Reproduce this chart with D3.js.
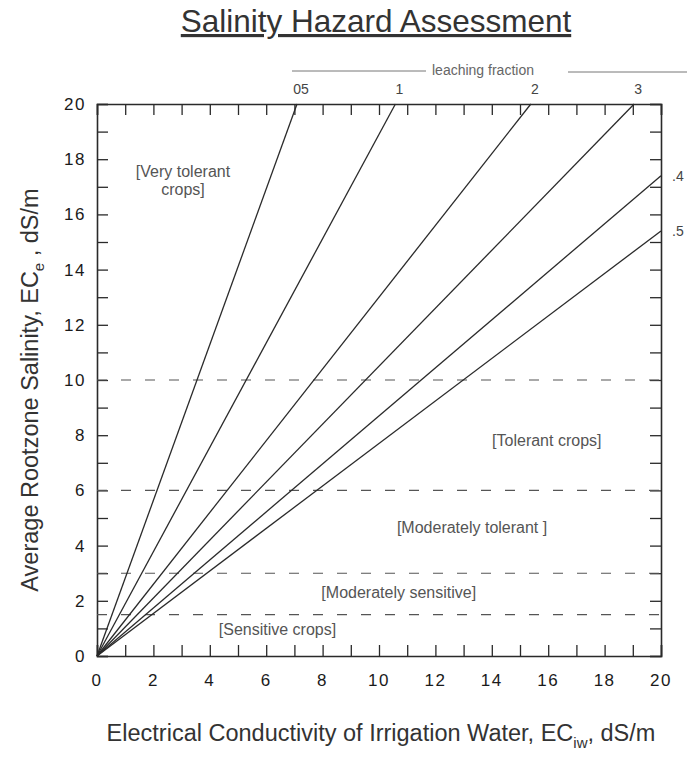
<!DOCTYPE html>
<html>
<head>
<meta charset="utf-8">
<script src="https://cdn.jsdelivr.net/npm/d3@7"></script>
<style>
  body { margin: 0; background: #fff; }
  svg { font-family: "Liberation Sans", Arial, sans-serif; }
</style>
</head>
<body>
<div class="chart-page"></div>
<script>
// leaching fraction lines: ECe = ratio * ECiw
const fractionLabels = ["05", "1", "2", "3", ".4", ".5"];
const ecRatios = [2.82, 1.89, 1.30, 1.05, 0.87, 0.77];

// crop tolerance boundaries (ECe, dS/m)
const zoneBreaks = [10, 6, 3, 1.5];
const zoneNames = ["[Very tolerant", "crops]", "[Tolerant crops]", "[Moderately tolerant ]", "[Moderately sensitive]", "[Sensitive crops]"];
const zoneAnchorX = [3.05, 3.05, 15.95, 13.3, 10.7, 6.4];
const zoneAnchorY = [17.55, 16.9, 7.8, 4.65, 2.3, 0.95];

const xTicks = d3.range(0, 21, 2);
const yTicks = d3.range(0, 21, 2);
const minorTicks = d3.range(0, 21, 1);

let width = 687, height = 758;
let margin = {top: 104, right: 26, bottom: 102, left: 97};

let svg = d3.select(".chart-page")
  .append("svg")
  .attr("width", width)
  .attr("height", height);

let x = d3.scaleLinear().domain([0, 20]).range([margin.left, width - margin.right]);
let y = d3.scaleLinear().domain([0, 20]).range([height - margin.bottom, margin.top]);

let ink = "#2a2a2a";

// title
svg.append("text")
  .attr("x", 376)
  .attr("y", 32)
  .attr("text-anchor", "middle")
  .attr("font-size", 31.5)
  .attr("fill", "#333")
  .attr("text-decoration", "underline")
  .text("Salinity Hazard Assessment");

// leaching fraction header
svg.append("text")
  .attr("x", 432)
  .attr("y", 75)
  .attr("font-size", 14)
  .attr("fill", "#666")
  .text("leaching fraction");

svg.append("line")
  .attr("x1", 292).attr("x2", 426)
  .attr("y1", 71).attr("y2", 71)
  .attr("stroke", "#777").attr("stroke-width", 1);

svg.append("line")
  .attr("x1", 568).attr("x2", 687)
  .attr("y1", 72).attr("y2", 72)
  .attr("stroke", "#777").attr("stroke-width", 1);

// axes with inward ticks on all four sides
let tickLen = 11;

let bottomAxis = d3.axisBottom(x).tickValues(minorTicks).tickSize(-tickLen).tickFormat("");
let topAxis = d3.axisTop(x).tickValues(minorTicks).tickSize(-tickLen).tickFormat("");
let leftAxis = d3.axisLeft(y).tickValues(minorTicks).tickSize(-tickLen).tickFormat("");
let rightAxis = d3.axisRight(y).tickValues(minorTicks).tickSize(-tickLen).tickFormat("");

function styleAxis(g) {
  g.selectAll("path").attr("stroke", ink).attr("stroke-width", 1.6);
  g.selectAll("line").attr("stroke", ink).attr("stroke-width", 1.3);
}

svg.append("g").attr("transform", "translate(0," + y(0) + ")").call(bottomAxis).call(styleAxis);
svg.append("g").attr("transform", "translate(0," + y(20) + ")").call(topAxis).call(styleAxis);
svg.append("g").attr("transform", "translate(" + x(0) + ",0)").call(leftAxis).call(styleAxis);
svg.append("g").attr("transform", "translate(" + x(20) + ",0)").call(rightAxis).call(styleAxis);

// tick labels
svg.append("g")
  .selectAll("text")
  .data(xTicks)
  .enter()
  .append("text")
  .attr("x", function(d) { return x(d); })
  .attr("y", y(0) + 30)
  .attr("text-anchor", "middle")
  .attr("font-size", 17)
  .attr("letter-spacing", 1.5)
  .attr("fill", "#1a1a1a")
  .text(function(d) { return d; });

svg.append("g")
  .selectAll("text")
  .data(yTicks)
  .enter()
  .append("text")
  .attr("x", x(0) - 11)
  .attr("y", function(d) { return y(d); })
  .attr("dy", "0.35em")
  .attr("text-anchor", "end")
  .attr("font-size", 17)
  .attr("letter-spacing", 1.5)
  .attr("fill", "#1a1a1a")
  .text(function(d) { return d; });

// dashed zone boundaries
svg.append("g")
  .selectAll("line")
  .data(zoneBreaks)
  .enter()
  .append("line")
  .attr("x1", x(0))
  .attr("x2", x(20))
  .attr("y1", function(d) { return y(d); })
  .attr("y2", function(d) { return y(d); })
  .attr("stroke", "#555")
  .attr("stroke-width", 1.1)
  .attr("stroke-dasharray", "10,14");

// leaching fraction lines, clipped at the frame
let lines = ecRatios.map(function(r, i) {
  let xEnd = Math.min(20, 20 / r);
  return {label: fractionLabels[i], ratio: r, x2: xEnd, y2: xEnd * r};
});

svg.append("g")
  .selectAll("line")
  .data(lines)
  .enter()
  .append("line")
  .attr("x1", x(0))
  .attr("y1", y(0))
  .attr("x2", function(d) { return x(d.x2); })
  .attr("y2", function(d) { return y(d.y2); })
  .attr("stroke", ink)
  .attr("stroke-width", 1.3);

// line labels
svg.append("g")
  .selectAll("text")
  .data(lines)
  .enter()
  .append("text")
  .attr("x", function(d) { return d.x2 < 20 ? x(d.x2) + 4 : x(20) + 11; })
  .attr("y", function(d) { return d.x2 < 20 ? y(20) - 10 : y(d.y2) + 5; })
  .attr("text-anchor", function(d) { return d.x2 < 20 ? "middle" : "start"; })
  .attr("font-size", 14)
  .attr("fill", "#444")
  .text(function(d) { return d.label; });

// crop tolerance labels
svg.append("g")
  .selectAll("text")
  .data(zoneNames)
  .enter()
  .append("text")
  .attr("x", function(d, i) { return x(zoneAnchorX[i]); })
  .attr("y", function(d, i) { return y(zoneAnchorY[i]); })
  .attr("dy", "0.35em")
  .attr("text-anchor", "middle")
  .attr("font-size", 16)
  .attr("fill", "#555")
  .text(function(d) { return d; });

// axis titles
let yTitle = svg.append("text")
  .attr("transform", "translate(38,390) rotate(-90)")
  .attr("text-anchor", "middle")
  .attr("font-size", 23.5)
  .attr("fill", "#333");
yTitle.append("tspan").text("Average Rootzone Salinity, EC");
yTitle.append("tspan").attr("font-size", 15).attr("dy", 6).text("e");
yTitle.append("tspan").attr("dy", -6).text(" , dS/m");

let xTitle = svg.append("text")
  .attr("x", 381)
  .attr("y", 741)
  .attr("text-anchor", "middle")
  .attr("font-size", 23.5)
  .attr("fill", "#333");
xTitle.append("tspan").text("Electrical Conductivity of Irrigation Water, EC");
xTitle.append("tspan").attr("font-size", 15).attr("dy", 7).text("iw");
xTitle.append("tspan").attr("dy", -7).text(", dS/m");
</script>
</body>
</html>
